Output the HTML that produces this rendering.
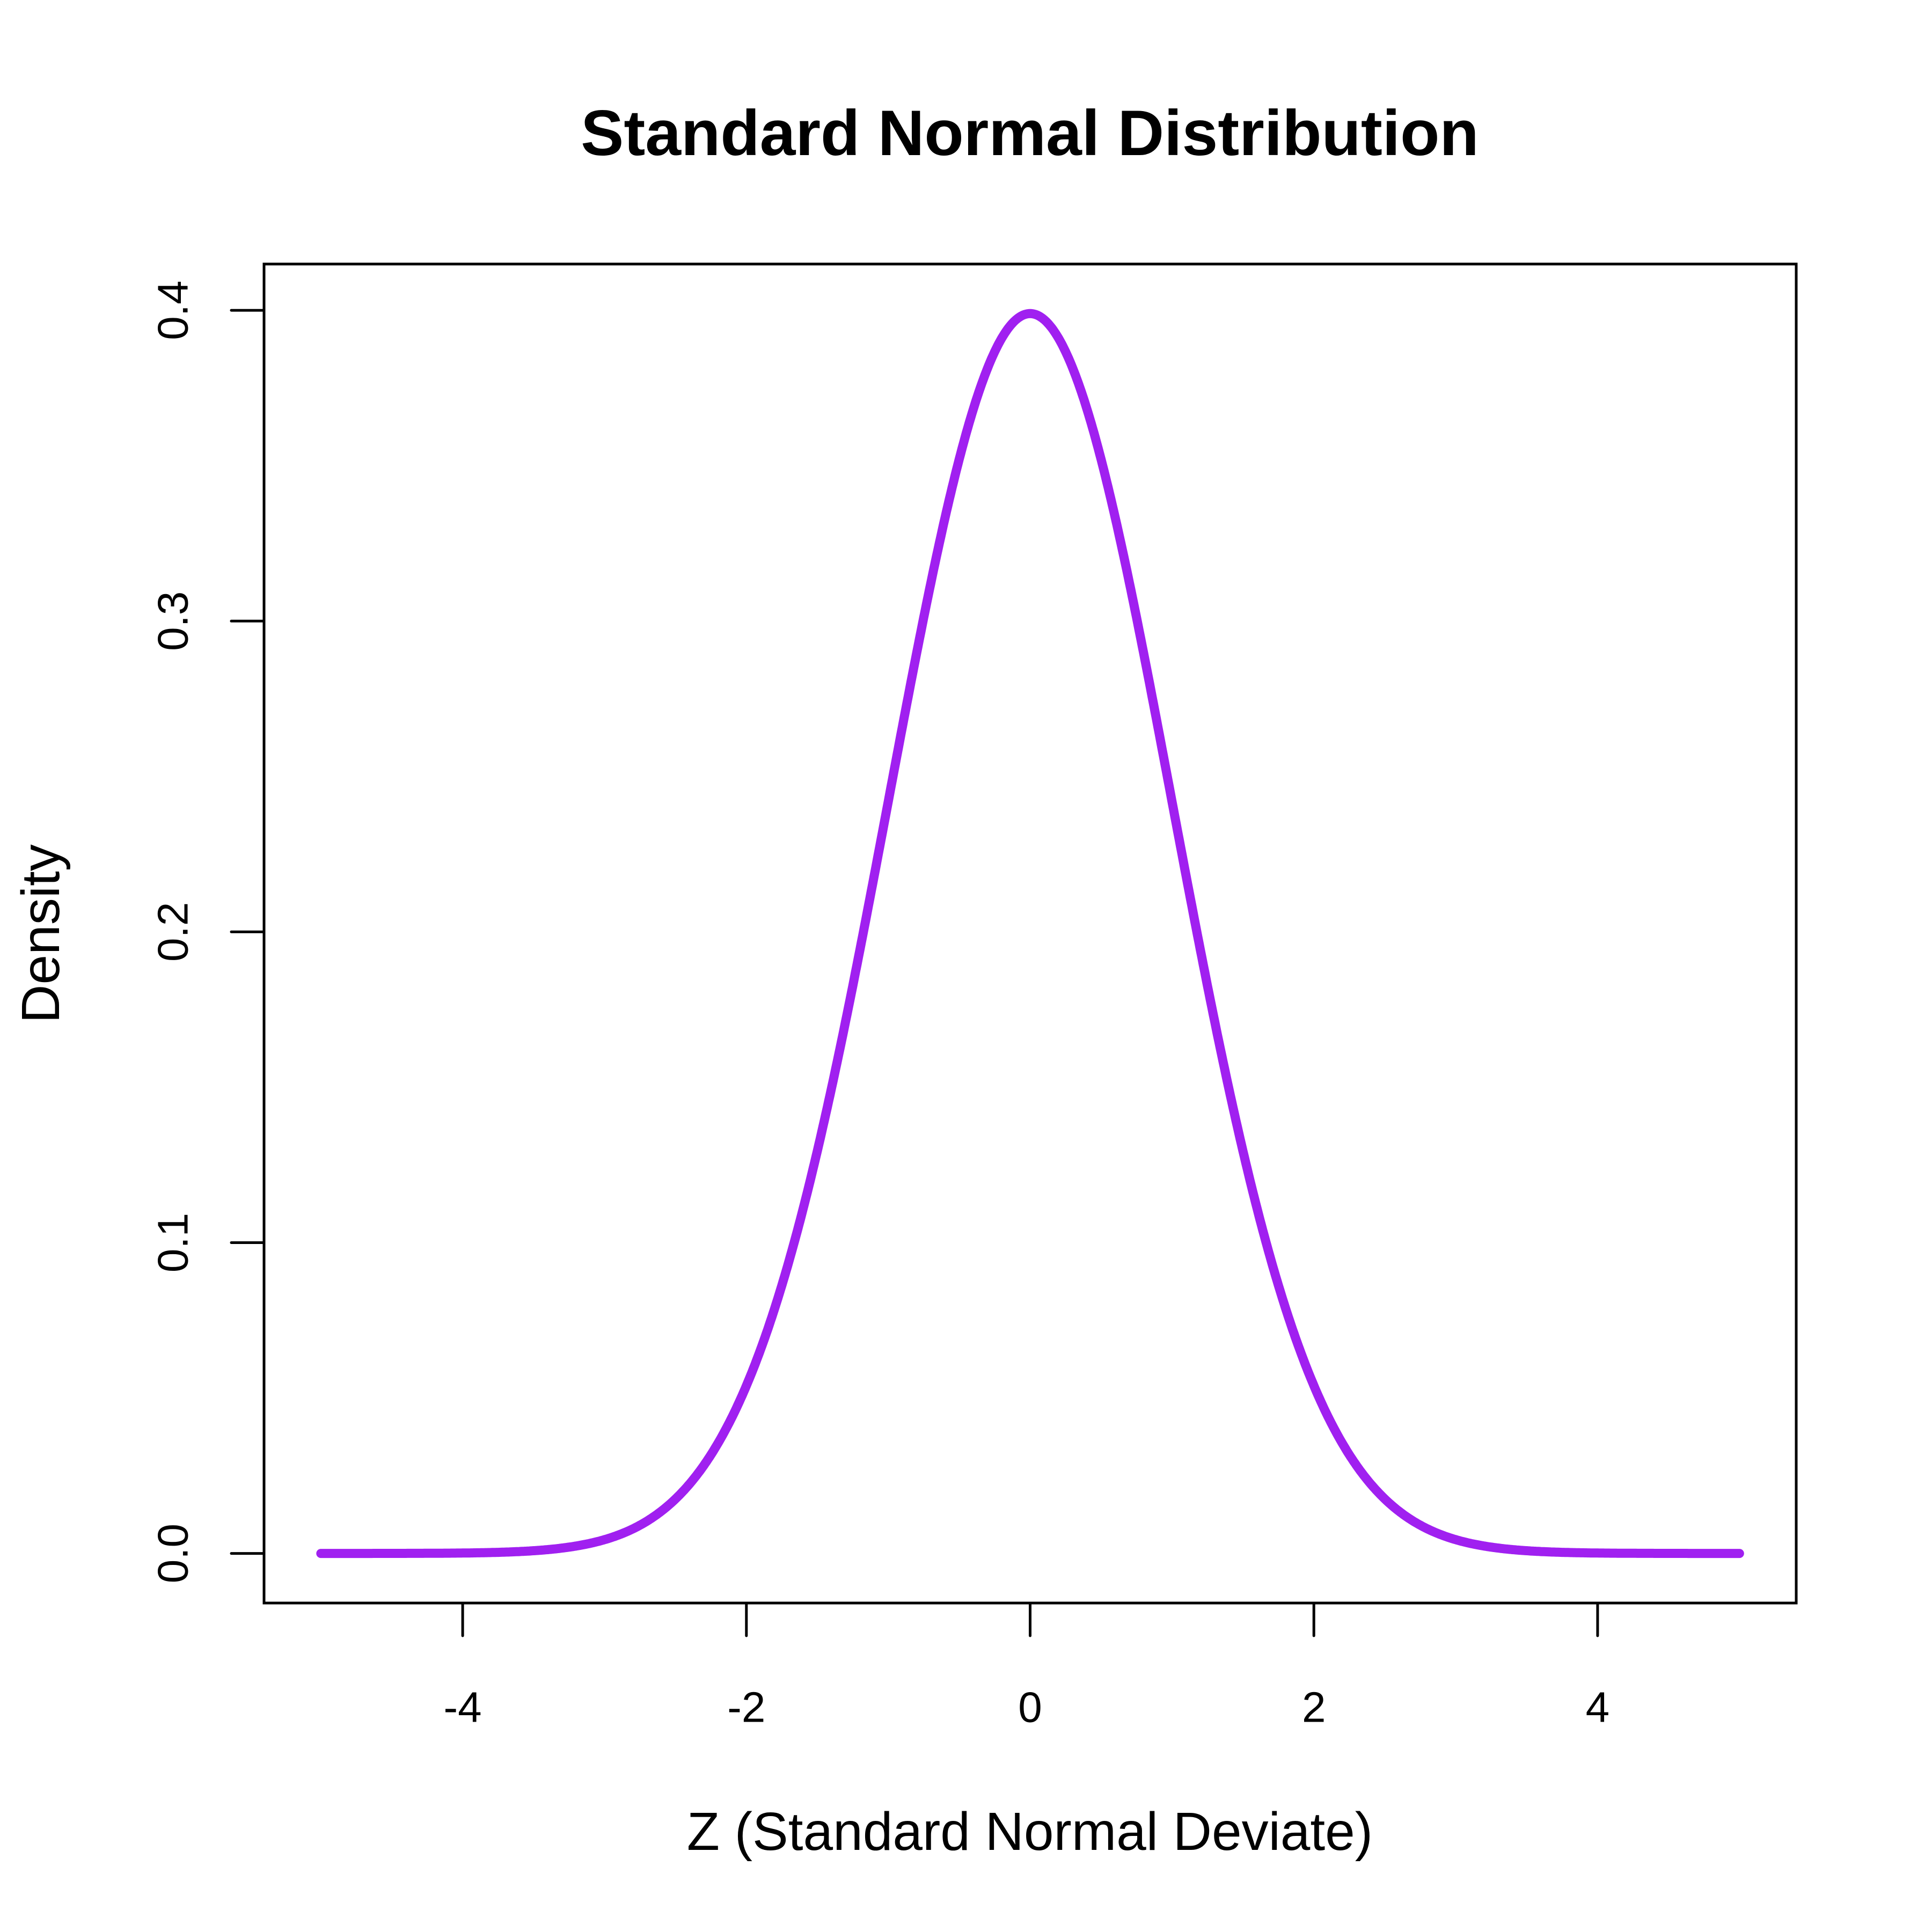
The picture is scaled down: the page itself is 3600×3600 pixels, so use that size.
<!DOCTYPE html>
<html><head><meta charset="utf-8"><style>html,body{margin:0;padding:0;background:#fff}svg{display:block}</style></head>
<body>
<svg id="s" width="3600" height="3600" viewBox="0 0 3600 3600" xmlns="http://www.w3.org/2000/svg" font-family="Liberation Sans, Arial, sans-serif">
<rect width="3600" height="3600" fill="#fff"/>
<text x="1919" y="248" font-size="120" font-weight="bold" text-anchor="middle" dominant-baseline="central">Standard Normal Distribution</text>
<rect x="492" y="492" width="2855" height="2495" fill="none" stroke="#000" stroke-width="5"/>
<g id="ticks" stroke="#000" stroke-width="5" stroke-linecap="round"></g>
<g id="labels" font-size="80" text-anchor="middle"></g>
<text x="1919" y="3413" font-size="100" text-anchor="middle" dominant-baseline="central">Z (Standard Normal Deviate)</text>
<text transform="translate(76,1740) rotate(-90)" font-size="100" text-anchor="middle" dominant-baseline="central">Density</text>
<path id="curve" fill="none" stroke="#A020F0" stroke-width="17" stroke-linecap="round" stroke-linejoin="round"/>
</svg>
<script>
var NS="http://www.w3.org/2000/svg";
function X(v){return 1919.5+v*264.35;}
function Y(v){return 2894.6-v*5791;}
var t=document.getElementById('ticks'),l=document.getElementById('labels');
function line(x1,y1,x2,y2){var e=document.createElementNS(NS,'line');e.setAttribute('x1',x1);e.setAttribute('y1',y1);e.setAttribute('x2',x2);e.setAttribute('y2',y2);t.appendChild(e);}
function txt(x,y,s,rot){var e=document.createElementNS(NS,'text');e.setAttribute('dominant-baseline','central');if(rot){e.setAttribute('transform','translate('+x+','+y+') rotate(-90)');}else{e.setAttribute('x',x);e.setAttribute('y',y);}e.textContent=s;l.appendChild(e);}
line(X(-4),2987,X(4),2987);
[-4,-2,0,2,4].forEach(function(v){line(X(v),2987,X(v),3048);txt(X(v),3181,String(v));});
line(492,Y(0),492,Y(0.4));
[0,0.1,0.2,0.3,0.4].forEach(function(v){line(431,Y(v),492,Y(v));txt(322,Y(v),v.toFixed(1),true);});
var d='';for(var i=0;i<=1000;i++){var x=-5+i*0.01;var y=Math.exp(-x*x/2)/Math.sqrt(2*Math.PI);d+=(i?'L':'M')+X(x).toFixed(1)+' '+Y(y).toFixed(1);}
document.getElementById('curve').setAttribute('d',d);
</script>
</body></html>
